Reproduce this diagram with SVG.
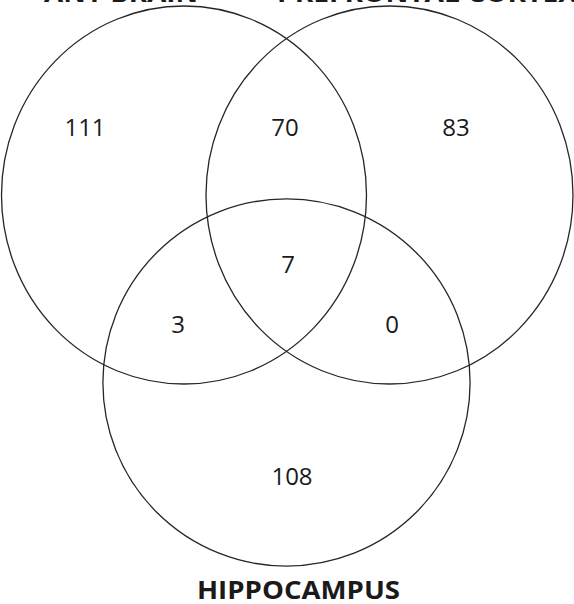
<svg xmlns="http://www.w3.org/2000/svg" width="574" height="604" viewBox="0 0 574 604">
<style>
.c{fill:none;stroke:#262626;stroke-width:1.3}
.n{font-family:"Open Sans","Liberation Sans",sans-serif;font-size:24px;fill:#1a1a1a;text-anchor:middle}
.t{font-family:"Open Sans","Liberation Sans",sans-serif;font-size:25px;font-weight:bold;fill:#1a1a1a}
</style>
<rect width="574" height="604" fill="#fff"/>
<g id="any-brain">
<ellipse class="c" cx="184" cy="195" rx="182.5" ry="189"/>
<text class="t" x="44" y="2" textLength="154" lengthAdjust="spacingAndGlyphs">ANY BRAIN</text>
</g>
<g id="prefrontal-cortex">
<ellipse class="c" cx="389.5" cy="195" rx="183.5" ry="189"/>
<text class="t" x="277" y="2" textLength="300" lengthAdjust="spacingAndGlyphs">PREFRONTAL CORTEX</text>
</g>
<g id="hippocampus">
<circle class="c" cx="286.5" cy="382.5" r="183.6"/>
<text class="t" x="197" y="599" textLength="203" lengthAdjust="spacingAndGlyphs">HIPPOCAMPUS</text>
</g>
<g id="counts">
<text class="n" x="85" y="136">111</text>
<text class="n" x="285" y="136">70</text>
<text class="n" x="456" y="136">83</text>
<text class="n" x="288" y="273">7</text>
<text class="n" x="178" y="333">3</text>
<text class="n" x="392" y="333">0</text>
<text class="n" x="292" y="485">108</text>
</g>
<g id="connectors"></g>
</svg>
